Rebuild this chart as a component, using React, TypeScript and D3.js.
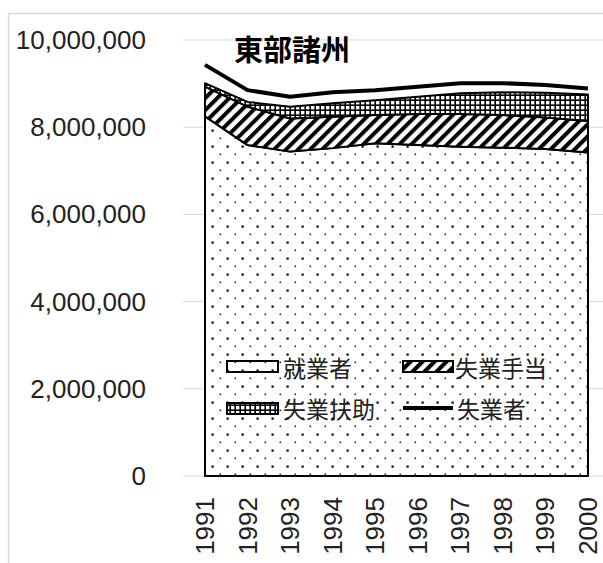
import React from 'react';
import * as d3 from 'd3';

const years = ['1991', '1992', '1993', '1994', '1995', '1996', '1997', '1998', '1999', '2000'];
const employed = [8250000, 7590000, 7440000, 7520000, 7630000, 7590000, 7550000, 7530000, 7500000, 7420000];
const unempBenefit = [680000, 880000, 760000, 720000, 650000, 710000, 750000, 750000, 720000, 720000];
const unempAssist = [80000, 110000, 270000, 310000, 340000, 400000, 480000, 520000, 570000, 610000];
const unemployed = [9430000, 8850000, 8700000, 8800000, 8850000, 8930000, 9010000, 9010000, 8970000, 8890000];
const yTicks = [0, 2000000, 4000000, 6000000, 8000000, 10000000];
const seriesNames = ['就業者', '失業手当', '失業扶助', '失業者'];
const title = '東部諸州';

export default function App() {
  const W = 603, H = 563;
  const x = d3.scalePoint<string>().domain(years).range([205, 588]);
  const y = d3.scaleLinear().domain([0, 10000000]).range([476, 40]);

  const rows = years.map((yr, i) => ({ yr, a: employed[i], b: unempBenefit[i], c: unempAssist[i] }));
  const stack = d3.stack<any>().keys(['a', 'b', 'c'])(rows);
  const area = d3.area<any>()
    .x((d: any) => x(d.data.yr) as number)
    .y0((d: any) => y(d[0]))
    .y1((d: any) => y(d[1]));
  const line = d3.line<number>()
    .x((_, i) => x(years[i]) as number)
    .y((d) => y(d));
  const fills = ['url(#dots)', 'url(#hatch)', 'url(#cross)'];
  const fmt = d3.format(',');

  return (
    <svg width={W} height={H} style={{ position: 'absolute', left: 0, top: 0, background: '#fff' }}>
      <defs>
        <pattern id="dots" patternUnits="userSpaceOnUse" width="15" height="16" x="205" y="0">
          <rect width="15" height="16" fill="#fff" />
          <rect x="6.5" y="1.5" width="2.2" height="2.2" fill="#000" />
          <rect x="-0.5" y="9.5" width="1.6" height="1.6" fill="#222" />
          <rect x="14.5" y="9.5" width="1.6" height="1.6" fill="#222" />
        </pattern>
        <pattern id="hatch" patternUnits="userSpaceOnUse" width="8.5" height="8.5" patternTransform="rotate(45)">
          <rect width="8.5" height="8.5" fill="#fff" />
          <rect x="0" y="0" width="4" height="8.5" fill="#000" />
        </pattern>
        <pattern id="cross" patternUnits="userSpaceOnUse" width="5" height="5">
          <rect width="5" height="5" fill="#000" />
          <rect x="1" y="1" width="3.4" height="3.4" fill="#fff" />
        </pattern>
      </defs>

      <rect x={8.5} y={13.5} width={W} height={H} fill="none" stroke="#d9d9d9" strokeWidth={1.5} />

      {yTicks.map((t) => (
        <line key={'g' + t} x1={183} x2={W} y1={y(t)} y2={y(t)} stroke="#d9d9d9" strokeWidth={1} />
      ))}

      {stack.map((s, i) => (
        <path key={'a' + i} d={area(s as any) as string} fill={fills[i]} stroke="#000" strokeWidth={2} strokeLinejoin="round" />
      ))}

      <path d={line(unemployed) as string} fill="none" stroke="#000" strokeWidth={4} strokeLinejoin="round" />

      {yTicks.map((t) => (
        <text key={'yl' + t} x={146} y={y(t)} textAnchor="end" dominantBaseline="central"
          fontFamily="'Liberation Sans', Arial, sans-serif" fontSize={26} fill="#222">{fmt(t)}</text>
      ))}

      {years.map((yr) => (
        <text key={'xl' + yr} transform={`translate(${x(yr)},497) rotate(-90)`} textAnchor="end" dominantBaseline="central"
          fontFamily="'Liberation Sans', Arial, sans-serif" fontSize={26} fill="#222">{yr}</text>
      ))}

      <text x={234} y={48} dominantBaseline="central" fontFamily="'Noto Sans CJK JP', sans-serif" fontWeight="bold" fontSize={29} fill="#000">{title}</text>

      {/* legend */}
      <g fontFamily="'Noto Sans CJK JP', sans-serif" fontSize={23} fill="#222">
        <rect x={227} y={361} width={51} height={11} fill={fills[0]} stroke="#000" strokeWidth={2} />
        <text x={283} y={367} dominantBaseline="central">{seriesNames[0]}</text>
        <rect x={403} y={361} width={50} height={11} fill={fills[1]} stroke="#000" strokeWidth={2} />
        <text x={455} y={367} dominantBaseline="central">{seriesNames[1]}</text>
        <rect x={227} y={403} width={51} height={11} fill={fills[2]} stroke="#000" strokeWidth={2} />
        <text x={283} y={408} dominantBaseline="central">{seriesNames[2]}</text>
        <line x1={403} x2={453} y1={408} y2={408} stroke="#000" strokeWidth={4} />
        <text x={457} y={408} dominantBaseline="central">{seriesNames[3]}</text>
      </g>
    </svg>
  );
}
